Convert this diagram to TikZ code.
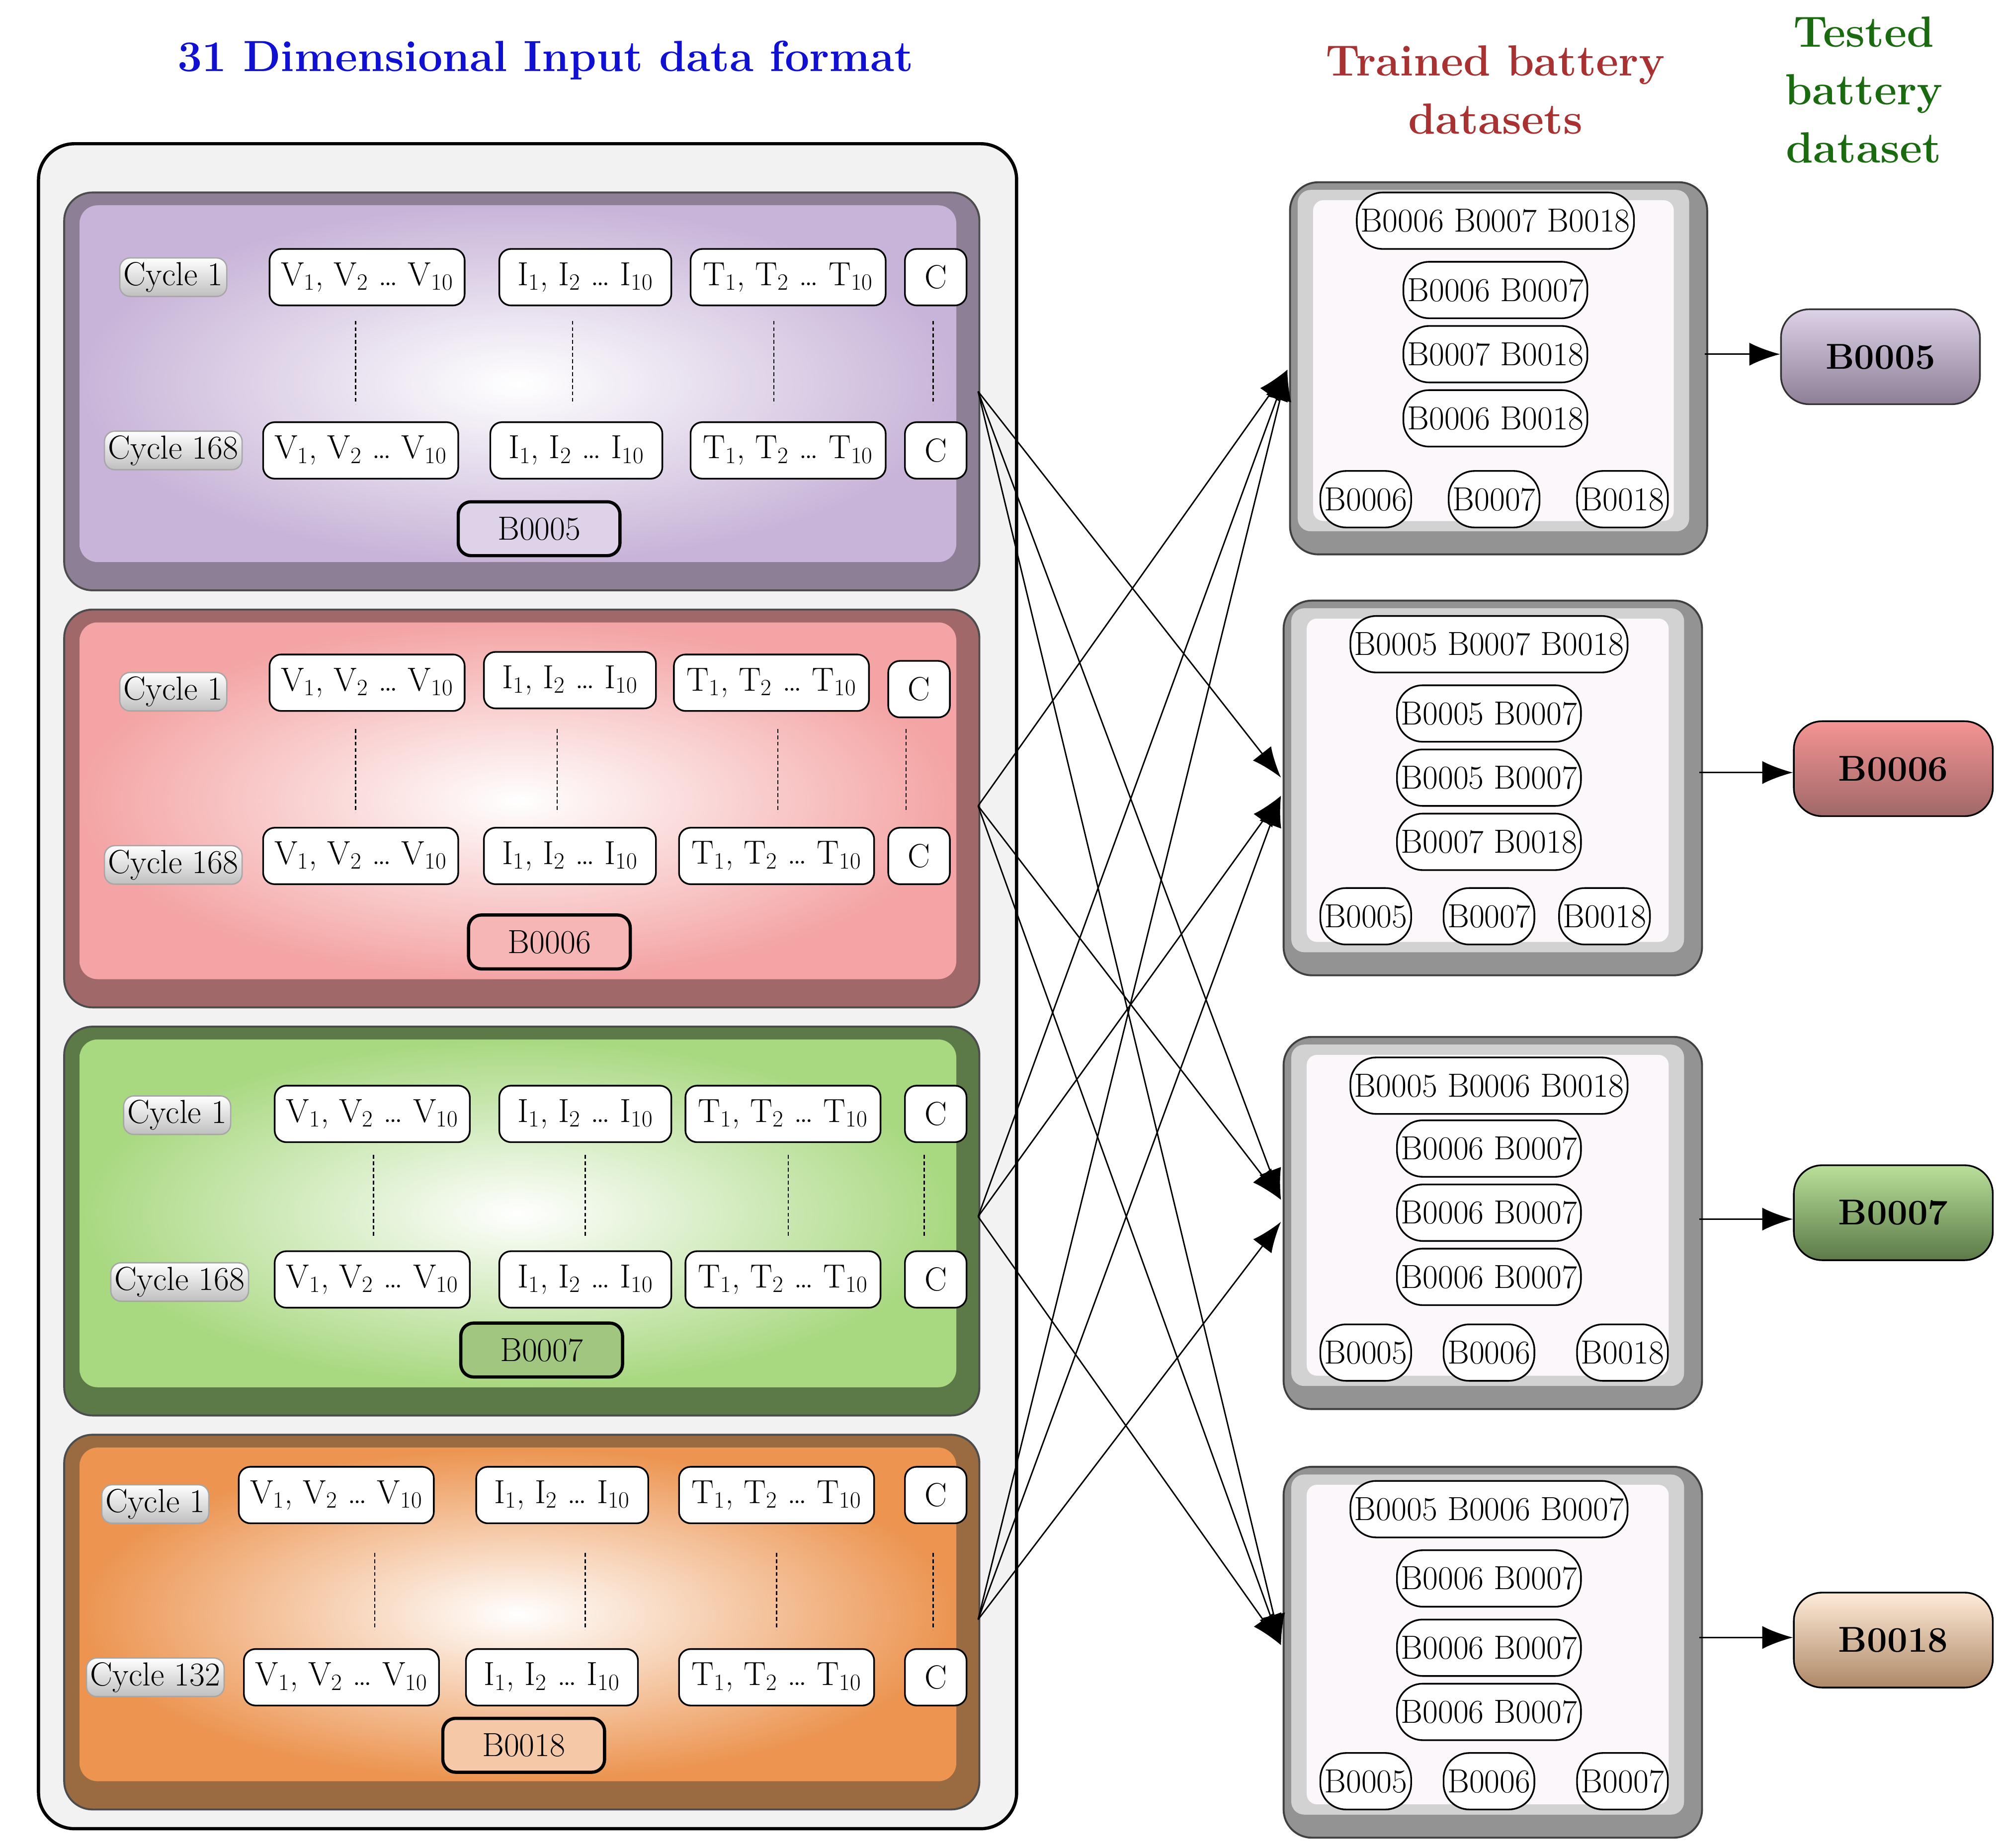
\documentclass[tikz,border=0pt]{standalone}
\usetikzlibrary{arrows.meta}
\definecolor{tblue}{HTML}{1010D0}
\definecolor{tred}{HTML}{A83232}
\definecolor{tgreen}{HTML}{1A6A10}
\definecolor{pd}{HTML}{8C7F96}\definecolor{pl}{HTML}{C8B4D8}
\definecolor{rd}{HTML}{A06868}\definecolor{rl}{HTML}{F4A4A4}
\definecolor{gd}{HTML}{5B7A48}\definecolor{gl}{HTML}{A8D880}
\definecolor{od}{HTML}{9A6A40}\definecolor{ol}{HTML}{EC9450}
\begin{document}
\fontsize{26}{30}\selectfont
\begin{tikzpicture}[x=1pt,y=-1pt,
  box/.style={draw,line width=1.3pt,rounded corners=9,fill=white,minimum height=44,inner sep=2pt,font=\fontsize{26}{30}\selectfont},
  cyc/.style={draw=gray!70,line width=1pt,rounded corners=8,top color=white,bottom color=gray!50,minimum height=30,inner sep=3pt,font=\fontsize{26}{30}\selectfont},
  pill/.style={draw,line width=1.3pt,rounded corners=20,fill=white,minimum height=44,inner sep=3pt,font=\fontsize{26}{30}\selectfont},
  lab/.style={draw,line width=2.5pt,rounded corners=10,minimum height=42,minimum width=126,font=\fontsize{26}{30}\selectfont},
  tst/.style={draw,line width=1.3pt,rounded corners=22,minimum height=74,minimum width=155,font=\bfseries\fontsize{28}{30}\selectfont},
  dots/.style={densely dashed,line width=0.9pt},
  arr/.style={-{Latex[length=24,width=18]},line width=1.1pt}]
\useasboundingbox (0,0) rectangle (1559.7,1440);
% titles
\node[text=tblue,font=\bfseries\fontsize{34}{38}\selectfont] (t1) at (425,47) {31 Dimensional Input data format};
\node[text=tred,font=\bfseries\fontsize{34}{45}\selectfont,align=center] (t2) at (1165,70) {Trained battery\\datasets};
\node[text=tgreen,font=\bfseries\fontsize{34}{45}\selectfont,align=center] (t3) at (1452,70) {Tested\\battery\\dataset};
% outer box
\draw[line width=2.5pt,rounded corners=28,fill=gray!10] (30,112) rectangle (792,1425);
\newcommand\mypanel[6]{%
  \fill[rounded corners=22,#5] (#1,#2) rectangle (#3,#4);
  \shade[rounded corners=14,inner color=white,outer color=#6] (#1+12,#2+10) rectangle (#3-18,#4-22);
  \draw[rounded corners=22,line width=1.5pt,black!70] (#1,#2) rectangle (#3,#4);}
\mypanel{50}{150}{763}{460}{fill=pd}{pl}
\mypanel{50}{475}{763}{785}{fill=rd}{rl}
\mypanel{50}{800}{763}{1103}{fill=gd}{gl}
\mypanel{50}{1118}{763}{1410}{fill=od}{ol}
\newcommand\myrow[7]{%
  \node[cyc] (#1c) at (#3) {#2};
  \node[box,minimum width=152] (#1v) at (#4) {V\textsubscript{1}, V\textsubscript{2} \dots\ V\textsubscript{10}};
  \node[box,minimum width=134] (#1i) at (#5) {I\textsubscript{1}, I\textsubscript{2} \dots\ I\textsubscript{10}};
  \node[box,minimum width=152] (#1t) at (#6) {T\textsubscript{1}, T\textsubscript{2} \dots\ T\textsubscript{10}};
  \node[box,minimum width=48] (#1k) at (#7) {C};}
% panel 1
\myrow{aa}{Cycle 1}{135,216}{286,216}{456,216}{614,216}{729,216}
\myrow{ab}{Cycle 168}{135,351}{281,351}{449,351}{614,351}{729,351}
\foreach \x in {277,446,603,727} \draw[dots] (\x,250) -- (\x,315);
\node[lab,fill=pl!60] (l1) at (420,412) {B0005};
% panel 2
\myrow{ba}{Cycle 1}{135,539}{286,532}{444,530}{601,532}{716,537}
\myrow{bb}{Cycle 168}{135,674}{281,667}{444,667}{605,667}{716,667}
\foreach \x in {277,434,606,706} \draw[dots] (\x,568) -- (\x,633);
\node[lab,fill=rl!80] (l2) at (428,734) {B0006};
% panel 3
\myrow{ca}{Cycle 1}{138,869}{290,868}{456,868}{610,868}{729,868}
\myrow{cb}{Cycle 168}{140,999}{290,997}{456,997}{610,997}{729,997}
\foreach \x in {291,456,614,720} \draw[dots] (\x,900) -- (\x,963);
\node[lab,fill=gl!80!gray] (l3) at (422,1052) {B0007};
% panel 4
\myrow{da}{Cycle 1}{121,1172}{262,1165}{438,1165}{605,1165}{729,1165}
\myrow{db}{Cycle 132}{121,1307}{266,1307}{430,1307}{605,1307}{729,1307}
\foreach \x in {292,456,605,727} \draw[dots] (\x,1210) -- (\x,1270);
\node[lab,fill=ol!50] (l4) at (408,1360) {B0018};
% right trained boxes
\newcommand\mytrain[4]{%
  \fill[rounded corners=22,gray!85] (#1,#2) rectangle (#3,#4);
  \fill[rounded corners=10,gray!35] (#1+6,#2+6) rectangle (#3-14,#4-18);
  \fill[rounded corners=8,violet!3] (#1+18,#2+14) rectangle (#3-26,#4-26);
  \draw[rounded corners=22,line width=1.5pt,black!75] (#1,#2) rectangle (#3,#4);}
\mytrain{1005}{142}{1330}{432}
\mytrain{1000}{468}{1326}{760}
\mytrain{1000}{808}{1326}{1098}
\mytrain{1000}{1143}{1326}{1432}
% R1
\node[pill] (r1a) at (1165,172) {B0006 B0007 B0018};
\node[pill] (r1b) at (1165,226) {B0006 B0007};
\node[pill] (r1c) at (1165,276) {B0007 B0018};
\node[pill] (r1d) at (1165,326) {B0006 B0018};
\node[pill] (r1e) at (1064,389) {B0006};
\node[pill] (r1f) at (1164,389) {B0007};
\node[pill] (r1g) at (1264,389) {B0018};
% R2
\node[pill] (r2a) at (1160,502) {B0005 B0007 B0018};
\node[pill] (r2b) at (1160,556) {B0005 B0007};
\node[pill] (r2c) at (1160,606) {B0005 B0007};
\node[pill] (r2d) at (1160,656) {B0007 B0018};
\node[pill] (r2e) at (1064,714) {B0005};
\node[pill] (r2f) at (1160,714) {B0007};
\node[pill] (r2g) at (1250,714) {B0018};
% R3
\node[pill] (r3a) at (1160,846) {B0005 B0006 B0018};
\node[pill] (r3b) at (1160,895) {B0006 B0007};
\node[pill] (r3c) at (1160,945) {B0006 B0007};
\node[pill] (r3d) at (1160,995) {B0006 B0007};
\node[pill] (r3e) at (1064,1054) {B0005};
\node[pill] (r3f) at (1160,1054) {B0006};
\node[pill] (r3g) at (1264,1054) {B0018};
% R4
\node[pill] (r4a) at (1160,1176) {B0005 B0006 B0007};
\node[pill] (r4b) at (1160,1230) {B0006 B0007};
\node[pill] (r4c) at (1160,1284) {B0006 B0007};
\node[pill] (r4d) at (1160,1334) {B0006 B0007};
\node[pill] (r4e) at (1064,1388) {B0005};
\node[pill] (r4f) at (1160,1388) {B0006};
\node[pill] (r4g) at (1264,1388) {B0007};
% tested
\node[tst,draw=black!80,bottom color=pd,top color=pl!60] (s1) at (1465,278) {B0005};
\node[tst,bottom color=rd,top color=rl!90!red] (s2) at (1475,599) {B0006};
\node[tst,bottom color=gd,top color=gl!80] (s3) at (1475,945) {B0007};
\node[tst,bottom color=od!80,top color=orange!15] (s4) at (1475,1278) {B0018};
% connectors
\coordinate (o1) at (762,305); \coordinate (o2) at (762,628);
\coordinate (o3) at (762,948); \coordinate (o4) at (762,1262);
\coordinate (i1) at (1003,288);
\coordinate (i2a) at (998,606); \coordinate (i2b) at (998,620);
\coordinate (i3a) at (998,935); \coordinate (i3b) at (998,952);
\coordinate (i4) at (998,1282);
\draw[arr] (o1) -- (i2a); \draw[arr] (o1) -- (i3a); \draw[arr] (o1) -- (i4);
\draw[arr] (o2) -- (i1); \draw[arr] (o2) -- (i3a); \draw[arr] (o2) -- (i4);
\draw[arr] (o3) -- (i1); \draw[arr] (o3) -- (i2b); \draw[arr] (o3) -- (i4);
\draw[arr] (o4) -- (i1); \draw[arr] (o4) -- (i2b); \draw[arr] (o4) -- (i3b);
\coordinate (e1) at (1328,276); \coordinate (e2) at (1324,602);
\coordinate (e3) at (1324,950); \coordinate (e4) at (1324,1276);
\draw[arr] (e1) -- (e1 -| s1.west); \draw[arr] (e2) -- (e2 -| s2.west);
\draw[arr] (e3) -- (e3 -| s3.west); \draw[arr] (e4) -- (e4 -| s4.west);
\end{tikzpicture}
\end{document}
